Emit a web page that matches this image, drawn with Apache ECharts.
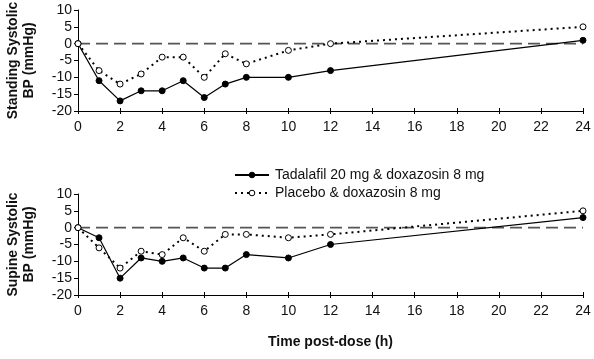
<!DOCTYPE html>
<html><head><meta charset="utf-8">
<script src="https://cdn.jsdelivr.net/npm/echarts@6/dist/echarts.min.js"></script>
<style>html,body{margin:0;padding:0;background:#fff}#c{width:594px;height:359px}</style>
</head><body><div id="c"></div>
<script>
const hours = [0,1,2,3,4,5,6,7,8,10,12,24];
const standingTadalafil = [0,-11,-17,-14,-14,-11,-16,-12,-10,-10,-8,1];
const standingPlacebo   = [0,-8,-12,-9,-4,-4,-10,-3,-6,-2,0,5];
const supineTadalafil   = [0,-3,-15,-9,-10,-9,-12,-12,-8,-9,-5,3];
const supinePlacebo     = [0,-6,-12,-7,-8,-3,-7,-2,-2,-3,-2,5];
const referenceLine     = [[0,0],[24,0]];
const seriesNames = ['Tadalafil 20 mg & doxazosin 8 mg','Placebo & doxazosin 8 mg'];
const yTitles = ['Standing Systolic\nBP (mmHg)','Supine Systolic\nBP (mmHg)'];
const xTitle = 'Time post-dose (h)';

const FONT = 'Liberation Sans, Arial, sans-serif';
const pair = (xs, ys) => xs.map((x,i)=>[x,ys[i]]);

function xAx(grid, withName){
  return {
    type:'value', gridIndex:grid, min:0, max:24, interval:2, position:'bottom',
    axisLine:{onZero:false,lineStyle:{color:'#000',width:1}},
    axisTick:{length:3,lineStyle:{color:'#000'}},
    axisLabel:{fontFamily:FONT,fontSize:14,color:'#111',margin:9},
    splitLine:{show:false},
    name: withName ? xTitle : '', nameLocation:'middle', nameGap:40,
    nameTextStyle:{fontFamily:FONT,fontSize:14,fontWeight:'bold',color:'#111'}
  };
}
function xAxInner(grid){
  return {
    type:'value', gridIndex:grid, min:0, max:24, interval:2, position:'bottom',
    axisLine:{show:false,onZero:false}, axisLabel:{show:false}, splitLine:{show:false},
    axisTick:{inside:true,length:3,lineStyle:{color:'#000'}}
  };
}
function yAx(grid, title){
  return {
    type:'value', gridIndex:grid, min:-20, max:10, interval:5, position:'left',
    axisLine:{show:true,onZero:false,lineStyle:{color:'#000',width:1}},
    axisTick:{show:true,length:4,lineStyle:{color:'#000'}},
    axisLabel:{fontFamily:FONT,fontSize:14,color:'#111',margin:6},
    splitLine:{show:false},
    name:title, nameLocation:'middle', nameRotate:90, nameGap:41,
    nameTextStyle:{fontFamily:FONT,fontSize:14,fontWeight:'bold',color:'#111',lineHeight:16}
  };
}
function refLine(grid){
  return {
    type:'line', xAxisIndex:grid*2, yAxisIndex:grid, data:referenceLine,
    symbol:'none', silent:true,
    lineStyle:{color:'#555',width:1.8,type:[12,6]}, z:2
  };
}
function solid(name, grid, data){
  return {
    name, type:'line', xAxisIndex:grid*2, yAxisIndex:grid, data,
    symbol:'circle', symbolSize:6,
    lineStyle:{color:'#000',width:1.2},
    itemStyle:{color:'#000',borderColor:'#000',borderWidth:1},
    z:3
  };
}
function dotted(name, grid, data){
  return {
    name, type:'line', xAxisIndex:grid*2, yAxisIndex:grid, data,
    symbol:'circle', symbolSize:6,
    lineStyle:{color:'#000',width:2,type:[2,4]},
    itemStyle:{color:'#fff',borderColor:'#000',borderWidth:1},
    z:4
  };
}

const chart = echarts.init(document.getElementById('c'), null, {renderer:'canvas'});
chart.setOption({
  animation:false,
  backgroundColor:'#fff',
  grid:[
    {left:78,right:11,top:10,height:101,outerBoundsMode:'none',containLabel:false},
    {left:78,right:11,top:194,height:101,outerBoundsMode:'none',containLabel:false}
  ],
  legend:{
    data:seriesNames, orient:'vertical', left:229, top:163, itemGap:4,
    itemWidth:34, itemHeight:7, itemStyle:{borderWidth:1},
    textStyle:{fontFamily:FONT,fontSize:14,color:'#111',padding:[0,0,0,1]}
  },
  xAxis:[xAx(0,false), xAxInner(0), xAx(1,true), xAxInner(1)],
  yAxis:[yAx(0,yTitles[0]), yAx(1,yTitles[1])],
  series:[
    refLine(0),
    solid(seriesNames[0],0,pair(hours,standingTadalafil)),
    dotted(seriesNames[1],0,pair(hours,standingPlacebo)),
    refLine(1),
    solid(seriesNames[0],1,pair(hours,supineTadalafil)),
    dotted(seriesNames[1],1,pair(hours,supinePlacebo))
  ]
});
</script></body></html>
